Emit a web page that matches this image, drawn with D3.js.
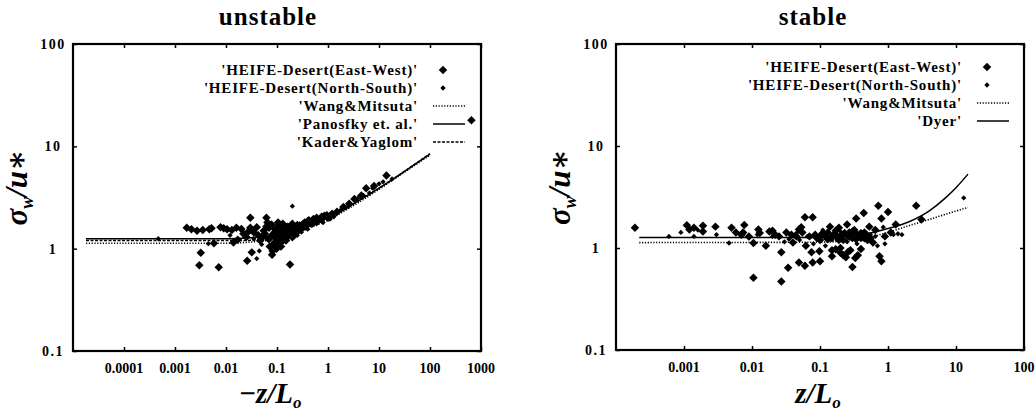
<!DOCTYPE html>
<html>
<head>
<meta charset="utf-8">
<script src="https://cdn.jsdelivr.net/npm/d3@7"></script>
<style>
  body { margin: 0; background: #fff; }
  svg { display: block; }
</style>
</head>
<body>
<svg id="chart" width="1036" height="411"></svg>
<script>
// tick labels
const unstableTicksX = [1e-4, 1e-3, 1e-2, 1e-1, 1, 10, 100, 1000];
const stableTicksX = [1e-3, 1e-2, 1e-1, 1, 10, 100];
const ticksY = [0.1, 1, 10, 100];

// unstable panel, -z/L vs sigma_w/u*
const unstableEW = [
  [0.0017,1.6],[0.0021,1.55],[0.0027,1.5],[0.0035,1.52],[0.0047,1.55],[0.0052,1.58],
  [0.0032,0.91],[0.003,0.69],[0.0072,0.66],[0.0058,1.13],
  [0.0078,1.62],[0.009,1.58],[0.0105,1.55],[0.013,1.52],[0.016,1.6],[0.02,1.56],
  [0.014,1.15],[0.017,1.22],[0.022,1.4],[0.025,1.3],[0.028,1.48],
  [0.03,2.0],[0.026,0.76],[0.032,0.92],[0.04,1.62],[0.043,1.35],[0.047,1.2],[0.055,1.5],
  [0.062,2.0],[0.065,1.8],[0.07,1.6],[0.072,1.05],[0.075,1.3],[0.08,0.87],[0.082,0.95],[0.085,1.1],
  [0.09,1.45],[0.095,1.25],[0.1,1.6],[0.1,1.15],[0.11,1.35],[0.11,1.7],[0.12,1.2],[0.12,1.5],
  [0.13,1.4],[0.14,1.6],[0.14,1.25],[0.15,1.45],[0.16,1.3],[0.17,1.55],[0.18,1.4],[0.18,0.7],
  [0.2,1.5],[0.2,1.75],[0.22,1.35],[0.24,1.6],[0.26,1.5],[0.28,1.68],[0.3,1.55],[0.33,1.75],
  [0.36,1.65],[0.4,1.85],[0.45,1.78],[0.5,1.9],[0.55,1.85],[0.6,2.0],[0.7,1.95],[0.75,2.05],
  [0.85,2.1],[1.0,2.0],[1.2,2.2],[1.5,2.3],[2.0,2.55],[2.6,2.75],[3.3,3.05],[4.5,3.3],
  [5.6,3.9],[8,4.1],[14,5.2],[650,18],
  [0.085,1.4],[0.092,1.55],[0.105,1.3],[0.115,1.45],[0.125,1.6],[0.135,1.3],[0.145,1.5],
  [0.155,1.38],[0.165,1.62],[0.19,1.45],[0.21,1.6],[0.23,1.5],[0.25,1.7],[0.27,1.58],
  [0.31,1.7],[0.35,1.8],[0.38,1.72],[0.42,1.9],[0.48,1.82],[0.52,1.95],[0.65,1.9],[0.8,2.0],
  [0.95,2.12],[0.062,1.65],[0.078,1.72],[0.105,1.8],[0.13,1.75],[0.058,1.4],[0.068,1.25],
  [0.03,1.6],[0.035,1.45],[0.052,1.3],[0.09,1.15],[0.12,1.05],[0.098,1.0],[0.15,1.2]
];
const unstableNS = [
  [0.00047,1.25],[0.0045,1.12],[0.012,1.35],[0.035,1.25],[0.04,0.8],[0.05,1.1],[0.06,1.4],
  [0.07,1.2],[0.09,1.05],[0.1,1.35],[0.13,1.15],[0.16,1.7],[0.2,1.25],[0.25,1.35],[0.3,1.45],
  [0.4,1.55],[0.6,1.75],[0.8,1.8],[1.3,2.05],[1.8,2.4],[2.5,2.6],[3.8,3.1],[6.5,3.5],[10,4.3],
  [18,4.8],[0.2,2.6],[0.045,0.95],[0.11,1.25],[0.17,1.35],[0.22,1.55],[0.35,1.6],[0.5,1.7],
  [1.1,1.95],[2.2,2.5],[5,3.3],[7.5,3.9],[12,4.5]
];
const unstableWang = [[1.8e-5,1.13],[0.01,1.13],[0.03,1.16],[0.1,1.25],[0.3,1.5],[1,1.9],[3,2.6],[10,3.8],[30,5.5],[100,8.2]];
const unstablePanofsky = [[1.8e-5,1.25],[0.01,1.25],[0.03,1.28],[0.1,1.35],[0.3,1.6],[1,2.0],[3,2.7],[10,3.9],[30,5.6],[100,8.4]];
const unstableKader = [[1.8e-5,1.2],[0.02,1.2],[0.1,1.3],[0.3,1.55],[1,1.95],[3,2.7],[10,3.9],[30,5.6],[100,8.5]];

// stable panel, z/L vs sigma_w/u*
const stableEW = [
  [0.00019,1.58],[0.0011,1.67],[0.0012,1.52],[0.0014,1.58],[0.0019,1.65],[0.0019,1.45],[0.0029,1.62],
  [0.005,1.58],[0.0058,1.42],[0.0077,1.68],[0.0074,1.42],[0.0105,1.12],[0.0105,0.51],[0.0124,1.52],
  [0.016,1.05],[0.018,1.45],[0.022,1.35],[0.027,0.91],[0.027,0.47],[0.034,0.64],[0.032,1.42],
  [0.04,1.13],[0.045,1.3],[0.049,1.52],[0.053,1.6],[0.049,0.72],[0.06,0.67],[0.06,2.0],[0.078,2.0],
  [0.062,1.05],[0.075,0.91],[0.078,0.72],[0.1,0.74],[0.098,0.93],[0.085,1.35],[0.09,1.25],[0.11,1.4],
  [0.12,1.3],[0.14,1.62],[0.15,0.83],[0.13,1.22],[0.16,1.35],[0.17,0.97],[0.18,1.25],[0.19,1.58],
  [0.2,1.0],[0.21,1.35],[0.22,1.2],[0.24,0.81],[0.25,1.7],[0.26,1.3],[0.27,1.42],[0.28,0.95],
  [0.3,0.65],[0.3,1.25],[0.32,1.5],[0.34,1.95],[0.34,1.22],[0.36,0.85],[0.38,1.35],[0.42,1.3],
  [0.44,2.2],[0.45,1.42],[0.5,1.2],[0.53,1.62],[0.6,1.13],[0.65,1.5],[0.72,2.6],[0.75,0.83],
  [0.8,0.74],[0.8,1.95],[0.9,1.3],[1.0,2.25],[1.1,1.42],[1.3,1.7],[2.6,2.6],[3.1,1.9],
  [0.007,1.35],[0.009,1.3],[0.013,1.4],[0.02,1.48],[0.025,1.3],[0.038,1.35],[0.055,1.42],
  [0.07,1.3],[0.1,1.2],[0.105,1.35],[0.13,1.42],[0.15,1.3],[0.17,1.48],[0.19,1.2],[0.23,1.4],
  [0.28,1.3],[0.3,1.45],[0.35,1.35],[0.4,1.25],[0.48,1.35],[0.55,1.25],[0.2,0.9],[0.22,0.85],
  [0.26,0.92],[0.33,0.8],[0.4,0.98],[0.15,0.95]
];
const stableNS = [
  [0.0006,1.3],[0.0009,1.42],[0.0014,1.3],[0.0046,1.12],[0.009,1.25],[0.02,1.3],[0.035,1.22],
  [0.05,1.2],[0.065,1.3],[0.08,1.1],[0.12,1.05],[0.15,1.2],[0.2,1.45],[0.25,1.15],[0.3,1.35],
  [0.35,1.1],[0.4,1.45],[0.55,1.35],[0.7,1.05],[0.85,1.6],[1.2,1.35],[1.6,1.35],[13,3.1],
  [0.0016,1.5],[0.003,1.35],[0.012,1.35],[0.03,1.15],[0.045,1.4],[0.11,1.5],[0.18,1.35],
  [0.45,1.2],[0.65,1.3],[0.9,1.1],[1.4,1.38]
];
const stableWang = [[2.2e-4,1.13],[0.1,1.14],[0.3,1.2],[0.6,1.3],[1,1.42],[2,1.65],[4,1.9],[8,2.2],[15,2.5]];
const stableDyer = [[2.2e-4,1.27],[0.1,1.27],[0.3,1.32],[0.6,1.42],[1,1.55],[2,1.8],[4,2.3],[7,3.1],[10,3.9],[15,5.3]];

const svg = d3.select('#chart');
svg.append('rect').attr('width', 1036).attr('height', 411).attr('fill', '#fff');

const serif = '"Liberation Serif", "DejaVu Serif", "Times New Roman", serif';

// square rotated 45deg -> diamond
const bigDiamond = d3.symbol().type(d3.symbolSquare).size(36)();
const smallDiamond = d3.symbol().type(d3.symbolSquare).size(14)();

function drawPanel(cfg) {
  const x = d3.scaleLog().domain(cfg.xDomain).range([cfg.left, cfg.right]);
  const y = d3.scaleLog().domain([0.1, 100]).range([cfg.bottom, cfg.top]);
  const g = svg.append('g');

  // title
  g.append('text')
    .attr('x', cfg.titleX).attr('y', 25)
    .attr('text-anchor', 'middle')
    .style('font-family', serif).style('font-weight', 'bold').style('font-size', '25px')
    .style('letter-spacing', '1px')
    .text(cfg.title);

  // inward ticks on all four sides
  const tk = 4;
  g.append('g').attr('transform', `translate(0,${cfg.bottom})`)
    .call(d3.axisBottom(x).tickValues(cfg.ticksX).tickSizeInner(-tk).tickSizeOuter(0).tickFormat(''))
    .call(a => a.select('.domain').remove());
  g.append('g').attr('transform', `translate(0,${cfg.top})`)
    .call(d3.axisTop(x).tickValues(cfg.ticksX).tickSizeInner(-tk).tickSizeOuter(0).tickFormat(''))
    .call(a => a.select('.domain').remove());
  g.append('g').attr('transform', `translate(${cfg.left},0)`)
    .call(d3.axisLeft(y).tickValues(ticksY).tickSizeInner(-tk).tickSizeOuter(0).tickFormat(''))
    .call(a => a.select('.domain').remove());
  g.append('g').attr('transform', `translate(${cfg.right},0)`)
    .call(d3.axisRight(y).tickValues(ticksY).tickSizeInner(-tk).tickSizeOuter(0).tickFormat(''))
    .call(a => a.select('.domain').remove());
  g.selectAll('.tick line').attr('stroke', '#000').attr('stroke-width', 1.5);

  // tick labels
  g.selectAll('.xl').data(cfg.ticksX).join('text')
    .attr('x', d => x(d)).attr('y', cfg.bottom + 22)
    .attr('text-anchor', 'middle')
    .style('font-family', serif).style('font-weight', 'bold').style('font-size', '14px')
    .text(d => String(d));
  g.selectAll('.yl').data(ticksY).join('text')
    .attr('x', cfg.left - 20).attr('y', d => y(d) + 5)
    .attr('text-anchor', 'middle')
    .style('font-family', serif).style('font-weight', 'bold').style('font-size', '14px')
    .style('letter-spacing', '1.5px')
    .text(d => String(d));

  // axis labels
  const yl = g.append('text')
    .attr('transform', `translate(${cfg.left - 46},${(cfg.top + cfg.bottom) / 2 - 10}) rotate(-90)`)
    .attr('text-anchor', 'middle')
    .style('font-family', serif).style('font-weight', 'bold').style('font-style', 'italic').style('font-size', '31px');
  yl.append('tspan').text('σ');
  yl.append('tspan').attr('dy', 6).style('font-size', '18px').text('w');
  yl.append('tspan').attr('dy', -6).text('/u∗');

  const xl = g.append('text')
    .attr('x', cfg.xLabelX).attr('y', 403)
    .attr('text-anchor', 'middle')
    .style('font-family', serif).style('font-weight', 'bold').style('font-style', 'italic').style('font-size', '29px');
  xl.append('tspan').text(cfg.xLabel);
  xl.append('tspan').attr('dy', 5).style('font-size', '17px').text('o');

  // clip for curves
  const clipId = 'clip-' + cfg.key;
  g.append('clipPath').attr('id', clipId).append('rect')
    .attr('x', cfg.left).attr('y', cfg.top)
    .attr('width', cfg.right - cfg.left).attr('height', cfg.bottom - cfg.top);

  const line = d3.line().x(d => x(d[0])).y(d => y(d[1])).curve(d3.curveMonotoneX);
  const plot = g.append('g').attr('clip-path', `url(#${clipId})`);

  cfg.curves.forEach(c => {
    plot.append('path').datum(c.data)
      .attr('d', line)
      .attr('fill', 'none').attr('stroke', '#000')
      .attr('stroke-width', c.width).attr('stroke-dasharray', c.dash);
  });

  plot.selectAll('.ns').data(cfg.ns).join('path')
    .attr('d', smallDiamond)
    .attr('transform', d => `translate(${x(d[0])},${y(d[1])}) rotate(45)`)
    .attr('fill', '#000');
  g.selectAll('.ew').data(cfg.ew).join('path')
    .attr('d', bigDiamond)
    .attr('transform', d => `translate(${x(d[0])},${y(d[1])}) rotate(45)`)
    .attr('fill', '#000');

  // legend
  const lg = g.append('g');
  const items = [
    { label: "'HEIFE-Desert(East-West)'", kind: 'big' },
    { label: "'HEIFE-Desert(North-South)'", kind: 'small' }
  ].concat(cfg.curves.map(c => ({ label: c.label, kind: 'line', c })));
  items.forEach((it, i) => {
    const ly = cfg.legendY + i * cfg.legendStep;
    lg.append('text')
      .attr('x', cfg.legendTextX).attr('y', ly + 5)
      .attr('text-anchor', 'end')
      .style('font-family', serif).style('font-weight', 'bold').style('font-size', '15px')
      .style('letter-spacing', '0.8px')
      .text(it.label);
    const sx0 = cfg.legendTextX + 15, sx1 = cfg.legendTextX + 47;
    if (it.kind === 'line') {
      lg.append('line')
        .attr('x1', sx0).attr('x2', sx1).attr('y1', ly).attr('y2', ly)
        .attr('stroke', '#000').attr('stroke-width', it.c.width).attr('stroke-dasharray', it.c.dash);
    } else {
      lg.append('path')
        .attr('d', it.kind === 'big' ? bigDiamond : smallDiamond)
        .attr('transform', `translate(${(sx0 + sx1) / 2 - 6},${ly}) rotate(45)`)
        .attr('fill', '#000');
    }
  });

  // frame
  g.append('rect')
    .attr('x', cfg.left).attr('y', cfg.top)
    .attr('width', cfg.right - cfg.left).attr('height', cfg.bottom - cfg.top)
    .attr('fill', 'none').attr('stroke', '#000').attr('stroke-width', 2.2);
}

drawPanel({
  key: 'unstable', title: 'unstable', titleX: 268, xLabel: '−z/L', xLabelX: 270,
  left: 73, right: 481, top: 44, bottom: 351,
  xDomain: [1e-5, 1e3], ticksX: unstableTicksX,
  ew: unstableEW, ns: unstableNS,
  curves: [
    { label: "'Wang&Mitsuta'", data: unstableWang, dash: '1.2,1.6', width: 1.6 },
    { label: "'Panosfky et. al.'", data: unstablePanofsky, dash: null, width: 1.5 },
    { label: "'Kader&Yaglom'", data: unstableKader, dash: '3,1.5', width: 1.5 }
  ],
  legendTextX: 418, legendY: 70, legendStep: 18
});

drawPanel({
  key: 'stable', title: 'stable', titleX: 813, xLabel: 'z/L', xLabelX: 818,
  left: 616, right: 1024, top: 44, bottom: 350,
  xDomain: [1e-4, 1e2], ticksX: stableTicksX,
  ew: stableEW, ns: stableNS,
  curves: [
    { label: "'Wang&Mitsuta'", data: stableWang, dash: '1.2,1.6', width: 1.6 },
    { label: "'Dyer'", data: stableDyer, dash: null, width: 1.5 }
  ],
  legendTextX: 962, legendY: 67, legendStep: 18
});
</script>
</body>
</html>
